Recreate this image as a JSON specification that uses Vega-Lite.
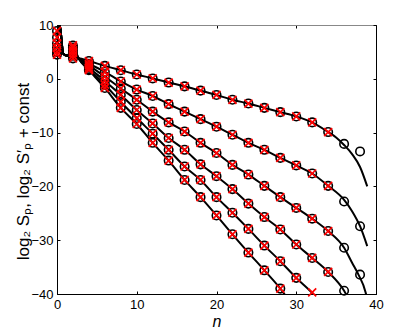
{
  "$schema": "https://vega.github.io/schema/vega-lite/v6.json",
  "autosize": {"type": "none"},
  "width": 319,
  "height": 269,
  "padding": {"left": 57, "top": 25, "right": 39, "bottom": 37},
  "background": "white",
  "config": {
    "view": {"stroke": "black", "strokeWidth": 1},
    "axis": {
      "labelFont": "Liberation Sans",
      "titleFont": "Liberation Sans",
      "labelFontSize": 12,
      "labelColor": "black",
      "titleColor": "black",
      "grid": false,
      "domainColor": "black",
      "tickColor": "black",
      "tickSize": -3,
      "labelPadding": 7
    }
  },
  "datasets": {
    "lines": [
      {"c":"A","n":0,"y":4.5},{"c":"A","n":0.3,"y":10.3},{"c":"A","n":0.8,"y":4.6},{"c":"A","n":1.3,"y":4.3},{"c":"A","n":2,"y":3.8},{"c":"A","n":2.7,"y":3.8},{"c":"A","n":4,"y":3.3},{"c":"A","n":6,"y":2.4},{"c":"A","n":8,"y":1.6},{"c":"A","n":10,"y":0.8},{"c":"A","n":12,"y":0.07},{"c":"A","n":14,"y":-0.7},{"c":"A","n":16,"y":-1.4},{"c":"A","n":18,"y":-2.2},{"c":"A","n":20,"y":-3.0},{"c":"A","n":22,"y":-3.9},{"c":"A","n":24,"y":-4.6},{"c":"A","n":26,"y":-5.4},{"c":"A","n":28,"y":-6.2},{"c":"A","n":30,"y":-7.0},{"c":"A","n":32,"y":-8.1},{"c":"A","n":34,"y":-9.9},{"c":"A","n":35,"y":-10.9},{"c":"A","n":36,"y":-12.3},{"c":"A","n":37,"y":-14.0},{"c":"A","n":38,"y":-16.4},{"c":"A","n":38.9,"y":-20.0},
      {"c":"B","n":0,"y":5.0},{"c":"B","n":0.3,"y":10.3},{"c":"B","n":0.8,"y":4.6},{"c":"B","n":1.3,"y":4.3},{"c":"B","n":2,"y":4.3},{"c":"B","n":2.7,"y":3.8},{"c":"B","n":4,"y":2.8},{"c":"B","n":6,"y":1.3},{"c":"B","n":8,"y":-0.5},{"c":"B","n":10,"y":-2.0},{"c":"B","n":12,"y":-3.2},{"c":"B","n":14,"y":-4.7},{"c":"B","n":16,"y":-6.1},{"c":"B","n":18,"y":-7.5},{"c":"B","n":20,"y":-8.9},{"c":"B","n":22,"y":-10.4},{"c":"B","n":24,"y":-11.9},{"c":"B","n":26,"y":-13.2},{"c":"B","n":28,"y":-14.7},{"c":"B","n":30,"y":-16.1},{"c":"B","n":32,"y":-17.6},{"c":"B","n":34,"y":-19.9},{"c":"B","n":36,"y":-22.5},{"c":"B","n":37,"y":-24.6},{"c":"B","n":38,"y":-27.4},{"c":"B","n":38.9,"y":-31.1},
      {"c":"C","n":0,"y":5.8},{"c":"C","n":0.3,"y":10.3},{"c":"C","n":0.8,"y":4.6},{"c":"C","n":1.3,"y":4.3},{"c":"C","n":2,"y":4.8},{"c":"C","n":2.7,"y":3.8},{"c":"C","n":4,"y":2.5},{"c":"C","n":6,"y":0.4},{"c":"C","n":8,"y":-1.8},{"c":"C","n":10,"y":-3.9},{"c":"C","n":12,"y":-6.1},{"c":"C","n":14,"y":-8.1},{"c":"C","n":16,"y":-9.8},{"c":"C","n":18,"y":-11.9},{"c":"C","n":20,"y":-13.8},{"c":"C","n":22,"y":-16.0},{"c":"C","n":24,"y":-17.8},{"c":"C","n":26,"y":-19.9},{"c":"C","n":28,"y":-22.0},{"c":"C","n":30,"y":-24.0},{"c":"C","n":32,"y":-26.0},{"c":"C","n":34,"y":-28.3},{"c":"C","n":36,"y":-31.4},{"c":"C","n":37,"y":-34.2},{"c":"C","n":37.8,"y":-36.4},{"c":"C","n":38.7,"y":-39.7},{"c":"C","n":38.9,"y":-41.0},
      {"c":"D","n":0,"y":6.6},{"c":"D","n":0.3,"y":10.3},{"c":"D","n":0.8,"y":4.6},{"c":"D","n":1.3,"y":4.3},{"c":"D","n":2,"y":5.3},{"c":"D","n":2.7,"y":3.8},{"c":"D","n":4,"y":2.1},{"c":"D","n":6,"y":-0.4},{"c":"D","n":8,"y":-3.0},{"c":"D","n":10,"y":-5.8},{"c":"D","n":12,"y":-8.3},{"c":"D","n":14,"y":-11.0},{"c":"D","n":16,"y":-13.2},{"c":"D","n":18,"y":-15.9},{"c":"D","n":20,"y":-18.1},{"c":"D","n":22,"y":-20.5},{"c":"D","n":24,"y":-23.2},{"c":"D","n":26,"y":-25.7},{"c":"D","n":28,"y":-28.0},{"c":"D","n":30,"y":-30.8},{"c":"D","n":32,"y":-33.3},{"c":"D","n":34,"y":-35.9},{"c":"D","n":36,"y":-39.4},{"c":"D","n":36.6,"y":-41.0},
      {"c":"E","n":0,"y":7.7},{"c":"E","n":0.3,"y":10.3},{"c":"E","n":0.8,"y":4.6},{"c":"E","n":1.3,"y":4.3},{"c":"E","n":2,"y":5.8},{"c":"E","n":2.7,"y":3.8},{"c":"E","n":4,"y":1.8},{"c":"E","n":6,"y":-1.1},{"c":"E","n":8,"y":-4.3},{"c":"E","n":10,"y":-7.3},{"c":"E","n":12,"y":-10.2},{"c":"E","n":14,"y":-13.2},{"c":"E","n":16,"y":-16.3},{"c":"E","n":18,"y":-18.8},{"c":"E","n":20,"y":-22.0},{"c":"E","n":22,"y":-24.9},{"c":"E","n":24,"y":-27.9},{"c":"E","n":26,"y":-31.0},{"c":"E","n":28,"y":-33.9},{"c":"E","n":30,"y":-37.0},{"c":"E","n":32,"y":-39.8},{"c":"E","n":33,"y":-41.5},
      {"c":"F","n":0,"y":8.9},{"c":"F","n":0.3,"y":10.3},{"c":"F","n":0.8,"y":4.6},{"c":"F","n":1.3,"y":4.3},{"c":"F","n":2,"y":6.2},{"c":"F","n":2.7,"y":3.8},{"c":"F","n":4,"y":1.6},{"c":"F","n":6,"y":-1.7},{"c":"F","n":8,"y":-5.4},{"c":"F","n":10,"y":-8.4},{"c":"F","n":12,"y":-11.9},{"c":"F","n":14,"y":-15.2},{"c":"F","n":16,"y":-18.8},{"c":"F","n":18,"y":-22.0},{"c":"F","n":20,"y":-25.4},{"c":"F","n":22,"y":-28.9},{"c":"F","n":24,"y":-32.3},{"c":"F","n":26,"y":-35.6},{"c":"F","n":28,"y":-39.0},{"c":"F","n":29,"y":-41.0}
    ],
    "circles": [
      {"c":"A","n":0,"y":4.5},{"c":"A","n":2,"y":3.8},{"c":"A","n":4,"y":3.3},{"c":"A","n":6,"y":2.4},{"c":"A","n":8,"y":1.6},{"c":"A","n":10,"y":0.8},{"c":"A","n":12,"y":0.07},{"c":"A","n":14,"y":-0.7},{"c":"A","n":16,"y":-1.4},{"c":"A","n":18,"y":-2.2},{"c":"A","n":20,"y":-3.0},{"c":"A","n":22,"y":-3.9},{"c":"A","n":24,"y":-4.6},{"c":"A","n":26,"y":-5.4},{"c":"A","n":28,"y":-6.2},{"c":"A","n":30,"y":-7.0},{"c":"A","n":32,"y":-8.1},{"c":"A","n":34,"y":-9.9},{"c":"A","n":36,"y":-12.1},{"c":"A","n":38,"y":-13.5},
      {"c":"B","n":0,"y":5.0},{"c":"B","n":2,"y":4.3},{"c":"B","n":4,"y":2.8},{"c":"B","n":6,"y":1.3},{"c":"B","n":8,"y":-0.5},{"c":"B","n":10,"y":-2.0},{"c":"B","n":12,"y":-3.2},{"c":"B","n":14,"y":-4.7},{"c":"B","n":16,"y":-6.1},{"c":"B","n":18,"y":-7.5},{"c":"B","n":20,"y":-8.9},{"c":"B","n":22,"y":-10.4},{"c":"B","n":24,"y":-11.9},{"c":"B","n":26,"y":-13.2},{"c":"B","n":28,"y":-14.7},{"c":"B","n":30,"y":-16.1},{"c":"B","n":32,"y":-17.6},{"c":"B","n":34,"y":-19.9},{"c":"B","n":36,"y":-22.8},{"c":"B","n":38,"y":-27.4},
      {"c":"C","n":0,"y":5.8},{"c":"C","n":2,"y":4.8},{"c":"C","n":4,"y":2.5},{"c":"C","n":6,"y":0.4},{"c":"C","n":8,"y":-1.8},{"c":"C","n":10,"y":-3.9},{"c":"C","n":12,"y":-6.1},{"c":"C","n":14,"y":-8.1},{"c":"C","n":16,"y":-9.8},{"c":"C","n":18,"y":-11.9},{"c":"C","n":20,"y":-13.8},{"c":"C","n":22,"y":-16.0},{"c":"C","n":24,"y":-17.8},{"c":"C","n":26,"y":-19.9},{"c":"C","n":28,"y":-22.0},{"c":"C","n":30,"y":-24.0},{"c":"C","n":32,"y":-26.0},{"c":"C","n":34,"y":-28.3},{"c":"C","n":36,"y":-31.4},{"c":"C","n":38,"y":-36.4},
      {"c":"D","n":0,"y":6.6},{"c":"D","n":2,"y":5.3},{"c":"D","n":4,"y":2.1},{"c":"D","n":6,"y":-0.4},{"c":"D","n":8,"y":-3.0},{"c":"D","n":10,"y":-5.8},{"c":"D","n":12,"y":-8.3},{"c":"D","n":14,"y":-11.0},{"c":"D","n":16,"y":-13.2},{"c":"D","n":18,"y":-15.9},{"c":"D","n":20,"y":-18.1},{"c":"D","n":22,"y":-20.5},{"c":"D","n":24,"y":-23.2},{"c":"D","n":26,"y":-25.7},{"c":"D","n":28,"y":-28.0},{"c":"D","n":30,"y":-30.8},{"c":"D","n":32,"y":-33.3},{"c":"D","n":34,"y":-35.9},{"c":"D","n":36,"y":-39.4},
      {"c":"E","n":0,"y":7.7},{"c":"E","n":2,"y":5.8},{"c":"E","n":4,"y":1.8},{"c":"E","n":6,"y":-1.1},{"c":"E","n":8,"y":-4.3},{"c":"E","n":10,"y":-7.3},{"c":"E","n":12,"y":-10.2},{"c":"E","n":14,"y":-13.2},{"c":"E","n":16,"y":-16.3},{"c":"E","n":18,"y":-18.8},{"c":"E","n":20,"y":-22.0},{"c":"E","n":22,"y":-24.9},{"c":"E","n":24,"y":-27.9},{"c":"E","n":26,"y":-31.0},{"c":"E","n":28,"y":-33.9},{"c":"E","n":30,"y":-37.0},
      {"c":"F","n":0,"y":8.9},{"c":"F","n":2,"y":6.2},{"c":"F","n":4,"y":1.6},{"c":"F","n":6,"y":-1.7},{"c":"F","n":8,"y":-5.4},{"c":"F","n":10,"y":-8.4},{"c":"F","n":12,"y":-11.9},{"c":"F","n":14,"y":-15.2},{"c":"F","n":16,"y":-18.8},{"c":"F","n":18,"y":-22.0},{"c":"F","n":20,"y":-25.4},{"c":"F","n":22,"y":-28.9},{"c":"F","n":24,"y":-32.3},{"c":"F","n":26,"y":-35.6},{"c":"F","n":28,"y":-39.0}
    ],
    "crosses": [
      {"c":"A","n":0,"y":4.5},{"c":"A","n":2,"y":3.8},{"c":"A","n":4,"y":3.3},{"c":"A","n":6,"y":2.4},{"c":"A","n":8,"y":1.6},{"c":"A","n":10,"y":0.8},{"c":"A","n":12,"y":0.07},{"c":"A","n":14,"y":-0.7},{"c":"A","n":16,"y":-1.4},{"c":"A","n":18,"y":-2.2},{"c":"A","n":20,"y":-3.0},{"c":"A","n":22,"y":-3.9},{"c":"A","n":24,"y":-4.6},{"c":"A","n":26,"y":-5.4},{"c":"A","n":28,"y":-6.2},{"c":"A","n":30,"y":-7.0},{"c":"A","n":32,"y":-8.1},{"c":"A","n":34,"y":-9.9},
      {"c":"B","n":0,"y":5.0},{"c":"B","n":2,"y":4.3},{"c":"B","n":4,"y":2.8},{"c":"B","n":6,"y":1.3},{"c":"B","n":8,"y":-0.5},{"c":"B","n":10,"y":-2.0},{"c":"B","n":12,"y":-3.2},{"c":"B","n":14,"y":-4.7},{"c":"B","n":16,"y":-6.1},{"c":"B","n":18,"y":-7.5},{"c":"B","n":20,"y":-8.9},{"c":"B","n":22,"y":-10.4},{"c":"B","n":24,"y":-11.9},{"c":"B","n":26,"y":-13.2},{"c":"B","n":28,"y":-14.7},{"c":"B","n":30,"y":-16.1},{"c":"B","n":32,"y":-17.6},{"c":"B","n":34,"y":-19.9},
      {"c":"C","n":0,"y":5.8},{"c":"C","n":2,"y":4.8},{"c":"C","n":4,"y":2.5},{"c":"C","n":6,"y":0.4},{"c":"C","n":8,"y":-1.8},{"c":"C","n":10,"y":-3.9},{"c":"C","n":12,"y":-6.1},{"c":"C","n":14,"y":-8.1},{"c":"C","n":16,"y":-9.8},{"c":"C","n":18,"y":-11.9},{"c":"C","n":20,"y":-13.8},{"c":"C","n":22,"y":-16.0},{"c":"C","n":24,"y":-17.8},{"c":"C","n":26,"y":-19.9},{"c":"C","n":28,"y":-22.0},{"c":"C","n":30,"y":-24.0},{"c":"C","n":32,"y":-26.0},{"c":"C","n":34,"y":-28.3},
      {"c":"D","n":0,"y":6.6},{"c":"D","n":2,"y":5.3},{"c":"D","n":4,"y":2.1},{"c":"D","n":6,"y":-0.4},{"c":"D","n":8,"y":-3.0},{"c":"D","n":10,"y":-5.8},{"c":"D","n":12,"y":-8.3},{"c":"D","n":14,"y":-11.0},{"c":"D","n":16,"y":-13.2},{"c":"D","n":18,"y":-15.9},{"c":"D","n":20,"y":-18.1},{"c":"D","n":22,"y":-20.5},{"c":"D","n":24,"y":-23.2},{"c":"D","n":26,"y":-25.7},{"c":"D","n":28,"y":-28.0},{"c":"D","n":30,"y":-30.8},{"c":"D","n":32,"y":-33.3},{"c":"D","n":34,"y":-35.9},
      {"c":"E","n":0,"y":7.7},{"c":"E","n":2,"y":5.8},{"c":"E","n":4,"y":1.8},{"c":"E","n":6,"y":-1.1},{"c":"E","n":8,"y":-4.3},{"c":"E","n":10,"y":-7.3},{"c":"E","n":12,"y":-10.2},{"c":"E","n":14,"y":-13.2},{"c":"E","n":16,"y":-16.3},{"c":"E","n":18,"y":-18.8},{"c":"E","n":20,"y":-22.0},{"c":"E","n":22,"y":-24.9},{"c":"E","n":24,"y":-27.9},{"c":"E","n":26,"y":-31.0},{"c":"E","n":28,"y":-33.9},{"c":"E","n":30,"y":-37.0},{"c":"E","n":32,"y":-39.7},
      {"c":"F","n":0,"y":8.9},{"c":"F","n":2,"y":6.2},{"c":"F","n":4,"y":1.6},{"c":"F","n":6,"y":-1.7},{"c":"F","n":8,"y":-5.4},{"c":"F","n":10,"y":-8.4},{"c":"F","n":12,"y":-11.9},{"c":"F","n":14,"y":-15.2},{"c":"F","n":16,"y":-18.8},{"c":"F","n":18,"y":-22.0},{"c":"F","n":20,"y":-25.4},{"c":"F","n":22,"y":-28.9},{"c":"F","n":24,"y":-32.3},{"c":"F","n":26,"y":-35.6},{"c":"F","n":28,"y":-39.0}
    ]
  },
  "resolve": {"axis": {"x": "independent", "y": "independent"}},
  "layer": [
    {
      "data": {"name": "lines"},
      "mark": {"type": "line", "color": "black", "strokeWidth": 2, "interpolate": "monotone", "clip": true},
      "encoding": {
        "x": {"field": "n", "type": "quantitative", "scale": {"domain": [0, 40], "nice": false},
          "axis": {"orient": "bottom", "values": [0, 10, 20, 30, 40], "title": "n", "titleFontStyle": "italic", "titleFontWeight": "normal", "titleFontSize": 16, "titlePadding": 2, "labelFlush": false, "labelFontSize": 13}},
        "y": {"field": "y", "type": "quantitative", "scale": {"domain": [-40, 10], "nice": false},
          "axis": {"orient": "left", "values": [-40, -30, -20, -10, 0, 10], "title": "log₂ Sₚ,  log₂ S′ₚ + const", "titleFontWeight": "normal", "titleFontSize": 17, "titleX": -29, "titleY": 146, "titleBaseline": "alphabetic", "titleAngle": -90, "titleAlign": "center", "labelFlush": false, "labelFontSize": 13}},
        "detail": {"field": "c"},
        "order": {"field": "n", "type": "quantitative"}
      }
    },
    {
      "data": {"name": "circles"},
      "mark": {"type": "point", "shape": "circle", "filled": false, "stroke": "black", "strokeWidth": 1.6, "size": 72, "opacity": 1},
      "encoding": {
        "x": {"field": "n", "type": "quantitative", "axis": null},
        "y": {"field": "y", "type": "quantitative", "axis": null}
      }
    },
    {
      "data": {"name": "crosses"},
      "mark": {"type": "point", "shape": "M-1,-1L1,1M1,-1L-1,1", "filled": false, "stroke": "#ff0000", "strokeWidth": 1.7, "size": 64, "opacity": 1},
      "encoding": {
        "x": {"field": "n", "type": "quantitative", "axis": null},
        "y": {"field": "y", "type": "quantitative", "axis": null}
      }
    },
    {
      "data": {"name": "circles"},
      "mark": {"type": "point", "opacity": 0},
      "encoding": {
        "x": {"field": "n", "type": "quantitative", "axis": {"orient": "top", "values": [0, 10, 20, 30, 40], "labels": false, "title": null, "domainColor": "#888888"}},
        "y": {"field": "y", "type": "quantitative", "axis": {"orient": "right", "values": [-40, -30, -20, -10, 0, 10], "labels": false, "title": null}}
      }
    }
  ]
}
